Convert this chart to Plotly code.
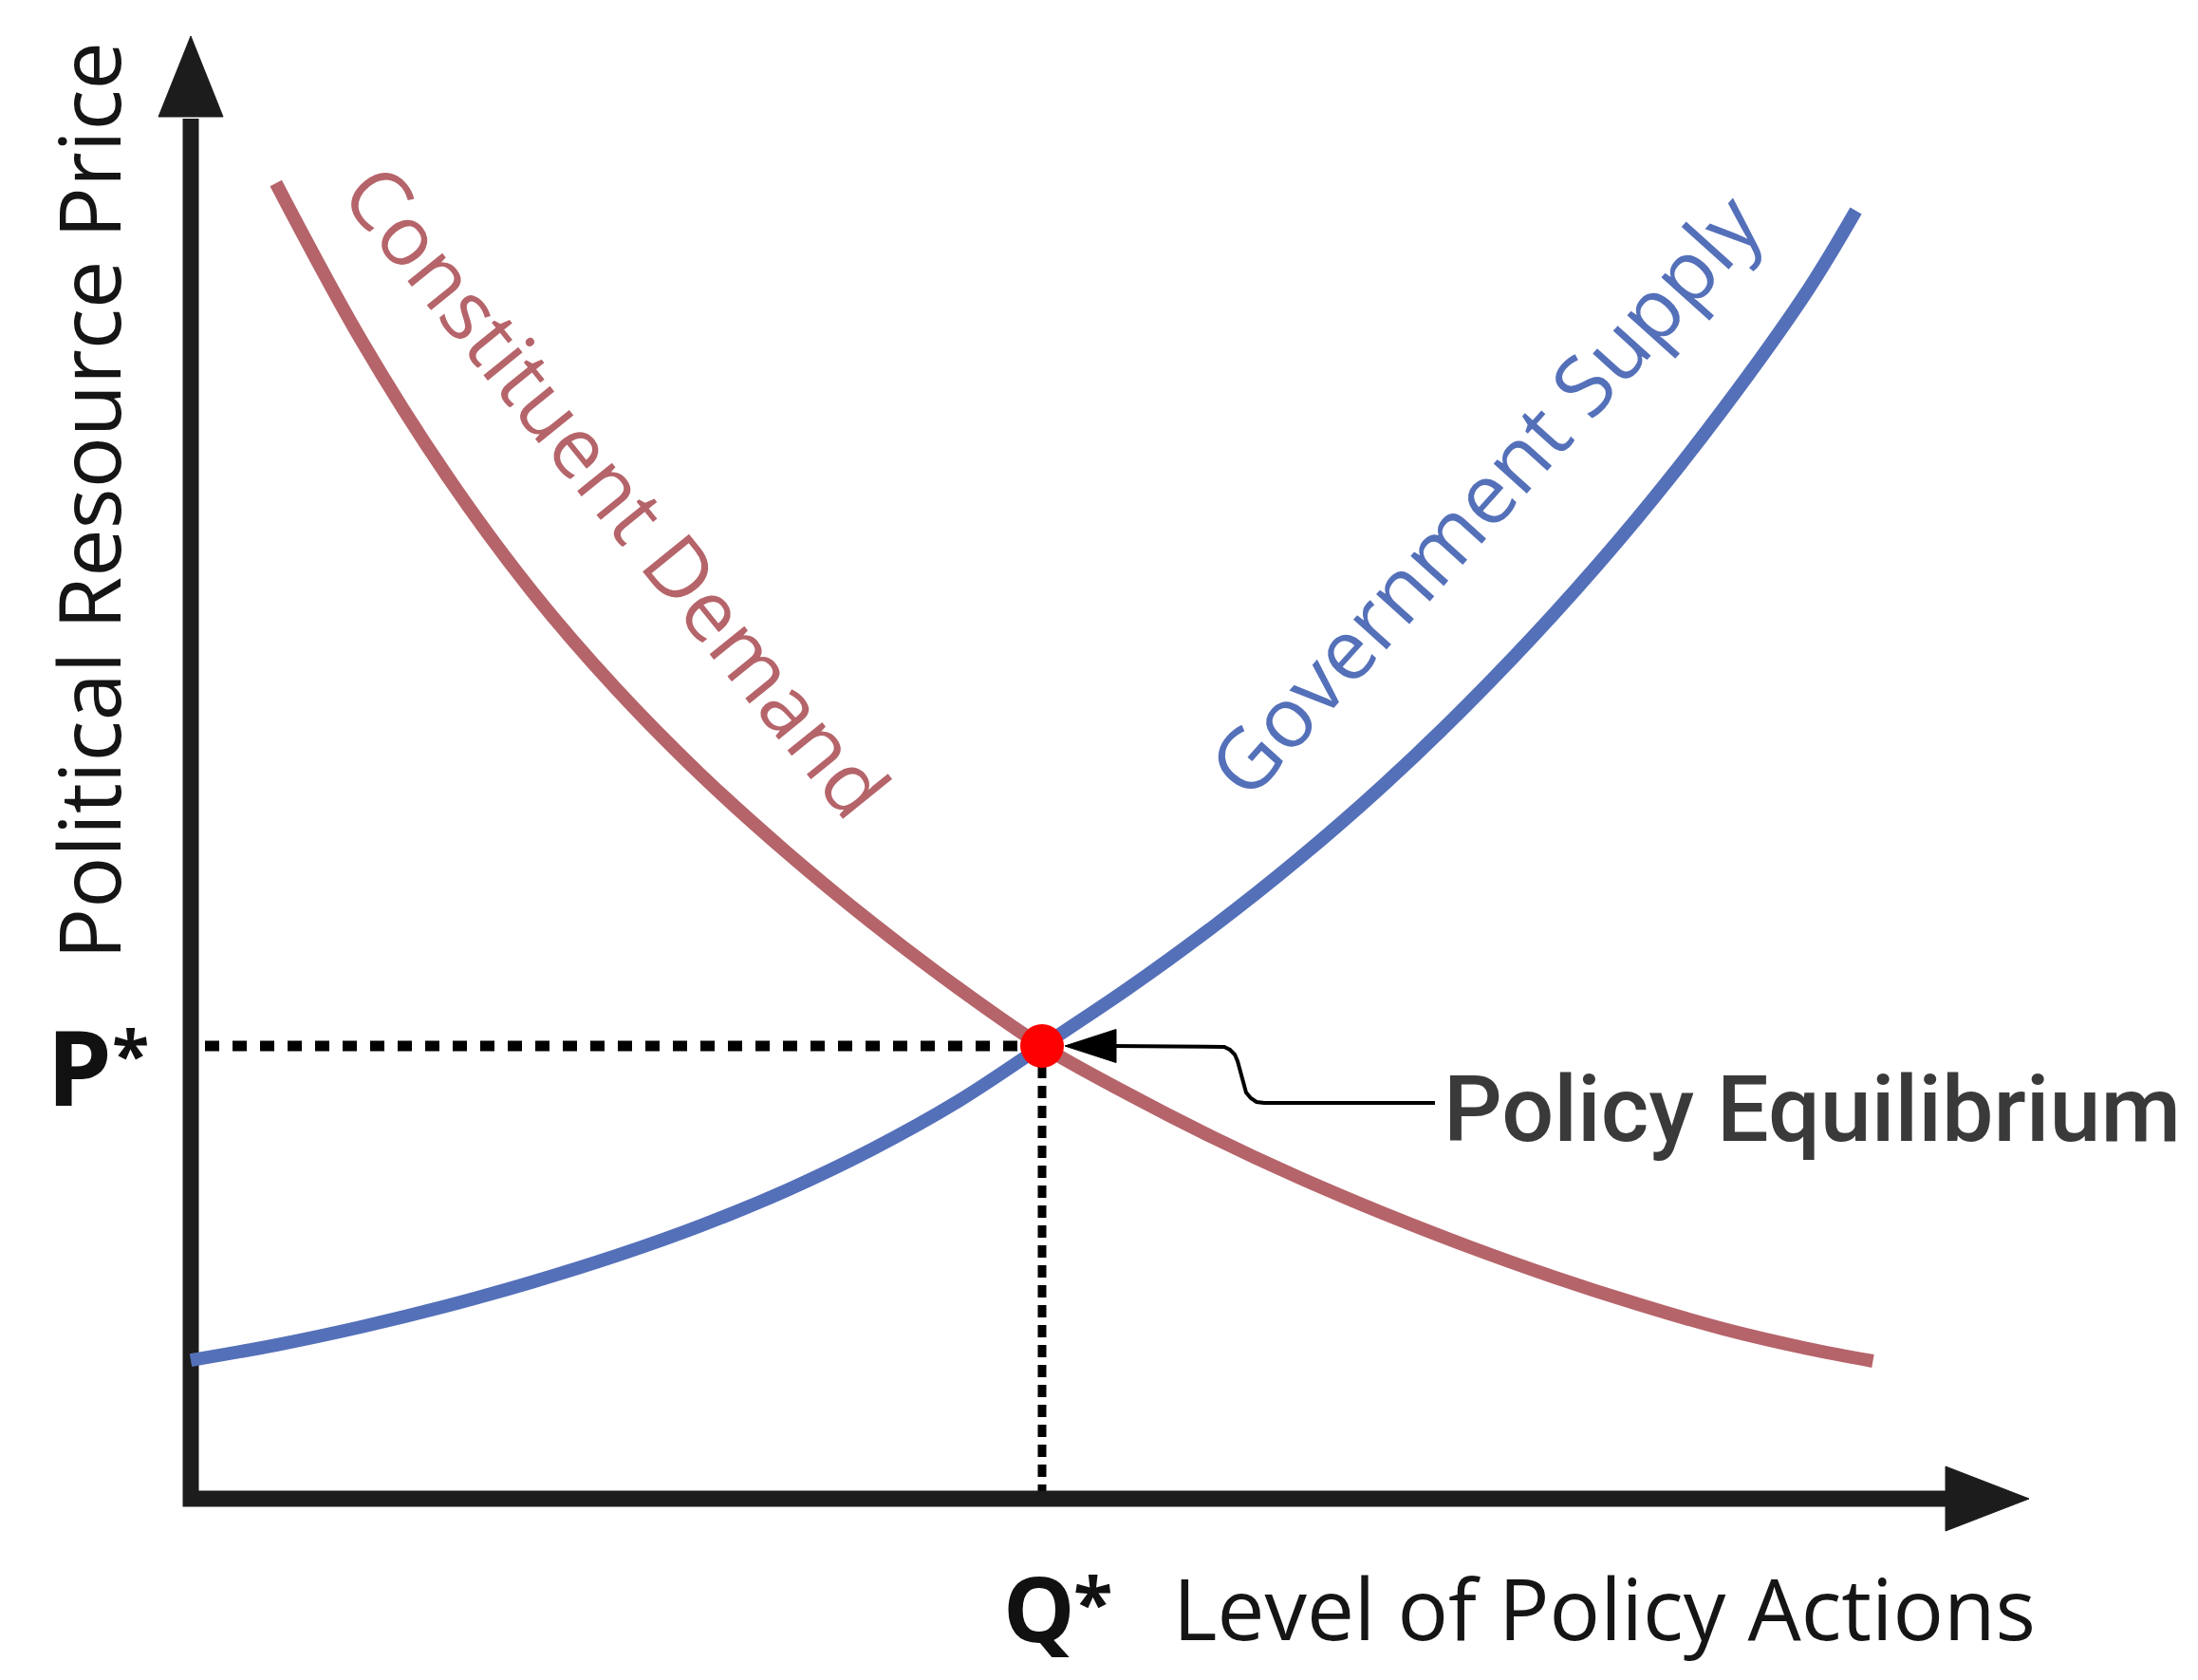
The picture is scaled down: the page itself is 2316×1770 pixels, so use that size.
import plotly.graph_objects as go

# ---- data (Q = level of policy actions, P = political resource price) ----
Q_STAR = 5.0
P_STAR = 4.0

Q_DEMAND = [0.5, 1.0, 1.5, 2.0, 2.5, 3.0, 3.5, 4.0, 4.5, 5.0,
            5.5, 6.0, 6.5, 7.0, 7.5, 8.0, 8.5, 9.0, 9.5, 9.88]
P_DEMAND = [11.623, 10.239, 9.048, 8.025, 7.153, 6.390, 5.711, 5.090, 4.520, 4.000,
            3.581, 3.195, 2.843, 2.524, 2.231, 1.962, 1.719, 1.501, 1.325, 1.216]

Q_SUPPLY = [0.0, 0.5, 1.0, 1.5, 2.0, 2.5, 3.0, 3.5, 4.0, 4.5, 5.0,
            5.5, 6.0, 6.5, 7.0, 7.5, 8.0, 8.5, 9.0, 9.5, 9.78]
P_SUPPLY = [1.224, 1.358, 1.518, 1.702, 1.912, 2.147, 2.415, 2.725, 3.086, 3.505, 4.000,
            4.503, 5.048, 5.644, 6.298, 7.019, 7.807, 8.671, 9.627, 10.683, 11.379]

# ---- page geometry (html body has an 8px margin) ----
W, H = 2300, 1754
PAGE_X0, PAGE_Y0 = 201, 1579   # page pixel of Q=0, P=0
SX, SY = 179.4, 119.25         # pixels per unit

RED = "#B5646A"
BLUE = "#5470B9"
AXIS = "#1c1c1c"
INK = "#151515"
FONT = "Open Sans"


def at(px, py):
    # page pixel -> data units
    return (px - PAGE_X0) / SX, (PAGE_Y0 - py) / SY


fig = go.Figure()

# 1. Dotted guide lines
x_start, _ = at(216, 0)
fig.add_trace(go.Scatter(x=[x_start, Q_STAR], y=[P_STAR, P_STAR], mode="lines",
                         line=dict(color="black", width=11, dash="15px,14px")))
fig.add_trace(go.Scatter(x=[Q_STAR, Q_STAR], y=[P_STAR, 0], mode="lines",
                         line=dict(color="black", width=9, dash="13px,8px")))

# 2. Axes with arrow heads
_, y_top = at(0, 125)
x_end, _ = at(2052, 0)
fig.add_trace(go.Scatter(x=[0, 0, x_end], y=[y_top, 0, 0], mode="lines",
                         line=dict(color=AXIS, width=17)))
tip_x, tip_y = at(201, 38)
base_x, base_y = at(201, 123)
hw = 34 / SX
fig.add_trace(go.Scatter(x=[base_x - hw, tip_x, base_x + hw, base_x - hw],
                         y=[base_y, tip_y, base_y, base_y], mode="lines", fill="toself",
                         fillcolor=AXIS, line=dict(color=AXIS, width=1)))
tip_x, tip_y = at(2138, 1579)
base_x, base_y = at(2050, 1579)
hh = 34 / SY
fig.add_trace(go.Scatter(x=[base_x, tip_x, base_x, base_x],
                         y=[base_y - hh, tip_y, base_y + hh, base_y - hh], mode="lines", fill="toself",
                         fillcolor=AXIS, line=dict(color=AXIS, width=1)))

# 3. Curves
fig.add_trace(go.Scatter(x=Q_DEMAND, y=P_DEMAND, mode="lines", line_shape="spline",
                         line=dict(color=RED, width=14)))
fig.add_trace(go.Scatter(x=Q_SUPPLY, y=P_SUPPLY, mode="lines", line_shape="spline",
                         line=dict(color=BLUE, width=14)))

# 4. Connector from the label to the equilibrium point
conn = [(1170, 1102), (1283, 1102), (1290, 1103), (1296, 1106), (1301, 1111), (1304, 1118),
        (1306, 1126), (1308, 1135), (1310, 1143), (1313, 1151), (1318, 1157), (1324, 1161),
        (1332, 1162), (1512, 1162)]
cx, cy = zip(*[at(*p) for p in conn])
fig.add_trace(go.Scatter(x=cx, y=cy, mode="lines",
                         line=dict(color="black", width=4)))
tx, ty = at(1122, 1102)
bx, by = at(1176, 1102)
ah = 17.5 / SY
fig.add_trace(go.Scatter(x=[bx, tx, bx, bx], y=[by - ah, ty, by + ah, by - ah], mode="lines",
                         fill="toself", fillcolor="black", line=dict(color="black", width=1)))

# 5. Equilibrium point
fig.add_trace(go.Scatter(x=[Q_STAR], y=[P_STAR], mode="markers",
                         marker=dict(color="#FF0000", size=46, line=dict(width=0))))


def label(text, px, py, size, color=INK, angle=0, xanchor="center", weight="normal", family=FONT):
    x, y = at(px, py)
    fig.add_annotation(x=x, y=y, text=text, showarrow=False, textangle=angle,
                       xanchor=xanchor, yanchor="middle",
                       font=dict(family=family, size=size, color=color, weight=weight))


label("Political Resource Price", 92, 528, 90, angle=-90)
label("Constituent Demand", 651, 516, 88, color=RED, angle=51)
label("Government Supply", 1563, 520, 88, color=BLUE, angle=-48)
label("Policy Equilibrium", 1519, 1169, 97, color="#3a3a3a", xanchor="left",
      weight=500, family="Roboto")
label("Level of Policy Actions", 1234, 1693, 89, xanchor="left")
label("Q", 1095, 1693, 95, color="#111111", weight="bold")
label("*", 1151, 1686, 76, color="#111111", weight="bold")
label("P", 83, 1122, 110, color="#111111", weight="bold")
label("*", 137, 1110, 72, color="#111111", weight="bold")

x_lo, y_hi = at(8, 8)
x_hi, y_lo = at(8 + W, 8 + H)
fig.update_layout(
    width=W, height=H, autosize=False,
    margin=dict(l=0, r=0, t=0, b=0, pad=0),
    paper_bgcolor="white", plot_bgcolor="white",
    showlegend=False,
    xaxis=dict(range=[x_lo, x_hi], visible=False, fixedrange=True),
    yaxis=dict(range=[y_lo, y_hi], visible=False, fixedrange=True),
)

fig.write_html("out.html")
